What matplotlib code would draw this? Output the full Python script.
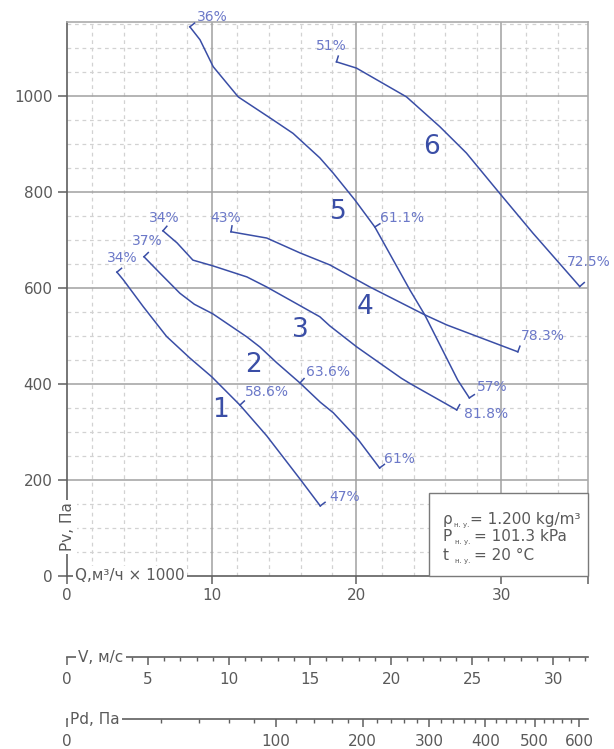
import numpy as np
import matplotlib
matplotlib.use("Agg")
import matplotlib.pyplot as plt
from matplotlib.patches import Rectangle

plt.rcParams['font.family'] = ['DejaVu Sans']

# ---------------- data ----------------
q1 = [3.45, 3.89, 5.27, 6.88, 8.49, 10.0, 11.95, 13.8, 16.1, 17.5]
p1 = [633, 617, 561, 499, 454, 415, 356, 292, 202, 146]
q2 = [5.32, 6.42, 7.8, 8.8, 10.08, 12.43, 13.33, 14.5, 16.1, 17.5, 18.4, 20.1, 21.6]
p2 = [665, 631, 589, 566, 546, 498, 477, 444, 402, 362, 340, 285, 225]
q3 = [6.63, 7.6, 8.7, 10.08, 12.43, 13.8, 15.4, 17.47, 18.16, 20.03, 23.1, 23.7, 26.93]
p3 = [719, 694, 658, 646, 623, 602, 575, 540, 521, 477, 412, 401, 346]
q4 = [11.33, 13.8, 16.1, 18.16, 20.93, 24.72, 26.24, 31.15]
p4 = [717, 704, 673, 648, 602, 544, 523, 467]
q5 = [8.49, 9.19, 10.1, 11.83, 14.24, 15.62, 17.47, 18.4, 19.9, 21.27, 23.69, 24.72, 27.0, 27.8]
p5 = [1144, 1117, 1061, 998, 950, 922, 871, 839, 783, 727, 596, 544, 408, 371]
q6 = [18.62, 20.0, 23.46, 25.76, 27.6, 29.9, 32.2, 35.43]
p6 = [1071, 1058, 998, 936, 881, 797, 714, 603]

start_eff = ['34%', '37%', '34%', '43%', '36%', '51%']
end_eff = ['47%', '61%', '81.8%', '78.3%', '57%', '72.5%']

mid_curve = [1, 2, 5]
mid_q = [11.95, 16.1, 21.27]
mid_p = [356, 402, 727]
mid_eff = ['58.6%', '63.6%', '61.1%']

num_labels = ['1', '2', '3', '4', '5', '6']
num_q = [10.64, 12.9, 16.16, 20.58, 18.78, 25.2]
num_p = [346, 440, 512, 560, 758, 894]

y_ticks = [0, 200, 400, 600, 800, 1000]
x_ticks = [0, 10, 20, 30]
v_ticks = [0, 5, 10, 15, 20, 25, 30]
pd_ticks = [0, 100, 200, 300, 400, 500, 600]

# ---------------- style ----------------
W, H = 614, 749
CURVE = '#3a4ea6'
PCT = '#6b78c8'
TXT = '#5a5a5a'
SPINE = '#5f5f5f'
GRID = '#a0a0a0'
MINOR = '#d2d2d2'

fig = plt.figure(figsize=(W / 100, H / 100), dpi=100)
L, R = 67, 588
TOP, BOT = 22, 576
ax = fig.add_axes([L / W, (H - BOT) / H, (R - L) / W, (BOT - TOP) / H])
ax.set_xlim(0, 36)
ax.set_ylim(0, 1154)

# grid
minor_off = [1.75, 3.95, 6.15, 8.3]
for base in [0, 10, 20, 30]:
    for o in minor_off:
        if base + o < 36:
            ax.axvline(base + o, color=MINOR, lw=0.9, ls=(0, (3, 3)), zorder=0.5)
for yv in np.arange(50, 1154, 50):
    if yv % 200 != 0:
        ax.axhline(yv, color=MINOR, lw=0.9, ls=(0, (3, 3)), zorder=0.5)
for xv in x_ticks[1:]:
    ax.axvline(xv, color=GRID, lw=1.1, zorder=0.8)
for yv in y_ticks[1:]:
    ax.axhline(yv, color=GRID, lw=1.1, zorder=0.8)

for s in ['left', 'bottom']:
    ax.spines[s].set_color(SPINE)
    ax.spines[s].set_linewidth(1.2)
for s in ['top', 'right']:
    ax.spines[s].set_color('#ababab')
    ax.spines[s].set_linewidth(1.2)

ax.set_yticks(y_ticks)
ax.set_yticklabels([str(v) for v in y_ticks])
ax.set_xticks(x_ticks + [36])
ax.set_xticklabels([str(v) for v in x_ticks] + [''])
ax.tick_params(axis='y', direction='out', length=6.5, width=1.1, color=SPINE,
               labelcolor=TXT, labelsize=11, pad=4)
ax.tick_params(axis='x', direction='out', length=6, width=1.1, color=SPINE,
               labelcolor=TXT, labelsize=11, pad=3)

ax.text(0, 102, 'Pv, Па', rotation=90, ha='center', va='center', fontsize=11,
        color=TXT, bbox=dict(facecolor='white', edgecolor='none', pad=1.5),
        zorder=5, clip_on=False)
ax.text(4.35, 0, 'Q,м³/ч × 1000', ha='center', va='center', fontsize=11,
        color=TXT, bbox=dict(facecolor='white', edgecolor='none', pad=1.5),
        zorder=5, clip_on=False)

# curves
curves_q = [q1, q2, q3, q4, q5, q6]
curves_p = [p1, p2, p3, p4, p5, p6]
for q, p in zip(curves_q, curves_p):
    ax.plot(q, p, color=CURVE, lw=1.1, zorder=3, solid_joinstyle='round')


def hook(qa, pa, qb, pb, qc, pc, length=6):
    """small tick at (qc,pc) perpendicular to direction a->b, toward upper right"""
    A = ax.transData.transform((qa, pa))
    B = ax.transData.transform((qb, pb))
    C = ax.transData.transform((qc, pc))
    t = B - A
    t = t / np.hypot(*t)
    n = np.array([-t[1], t[0]])
    if n[0] + n[1] < 0:
        n = -n
    E = ax.transData.inverted().transform(C + n * length)
    ax.plot([qc, E[0]], [pc, E[1]], color=CURVE, lw=1.1, zorder=3)


def pct(q, p, txt, dx, dy):
    ax.annotate(txt, (q, p), xytext=(dx, dy), textcoords='offset pixels',
                ha='center', va='center', fontsize=10, color=PCT, zorder=4)


start_off = [(5, 14), (3, 16), (1, 13), (-5, 14), (22, 10), (-5, 16)]
end_off = [(24, 9), (20, 9), (29, -4), (25, 16), (23, 11), (9, 25)]
for i, (q, p) in enumerate(zip(curves_q, curves_p)):
    hook(q[0], p[0], q[1], p[1], q[0], p[0])
    hook(q[-2], p[-2], q[-1], p[-1], q[-1], p[-1])
    pct(q[0], p[0], start_eff[i], *start_off[i])
    pct(q[-1], p[-1], end_eff[i], *end_off[i])

mid_off = [(27, 13), (28, 11), (27, 9)]
for c, mq, mp, lab, off in zip(mid_curve, mid_q, mid_p, mid_eff, mid_off):
    q = curves_q[c - 1]
    p = curves_p[c - 1]
    qa, qb = mq - 0.4, mq + 0.4
    hook(qa, np.interp(qa, q, p), qb, np.interp(qb, q, p), mq, mp)
    pct(mq, mp, lab, *off)

for lab, nq, npv in zip(num_labels, num_q, num_p):
    ax.text(nq, npv, lab, ha='center', va='center', fontsize=19, color=CURVE, zorder=4)

# info box
bx0 = (429 - L) / (R - L)
bh = (BOT - 493) / (BOT - TOP)
ax.add_patch(Rectangle((bx0, 0), 1 - bx0, bh, transform=ax.transAxes,
                       facecolor='white', edgecolor='#7a7a7a', lw=1.0, zorder=6,
                       clip_on=False))


def ftxt(x, y, s, size, **kw):
    fig.text(x / W, 1 - y / H, s, fontsize=size, color=TXT, va='baseline',
             ha='left', zorder=7, **kw)


ftxt(443, 524, 'ρ', 11)
ftxt(454, 527, 'н. у.', 5)
ftxt(470, 524, '= 1.200 kg/m³', 11)
ftxt(443, 541, 'P', 11)
ftxt(455, 544, 'н. у.', 5)
ftxt(474, 541, '= 101.3 kPa', 11)
ftxt(443, 560, 't', 11)
ftxt(455, 563, 'н. у.', 5)
ftxt(474, 560, '= 20 °C', 11)

# ---------------- secondary scales ----------------
VMAX = 32.16


def scale_axis(ypix, label, label_x):
    a = fig.add_axes([L / W, (H - ypix) / H, (R - L) / W, 0.0001])
    a.set_xlim(0, VMAX)
    a.patch.set_visible(False)
    for s in ['left', 'right', 'top']:
        a.spines[s].set_visible(False)
    a.spines['bottom'].set_color(SPINE)
    a.spines['bottom'].set_linewidth(1.2)
    a.set_yticks([])
    a.tick_params(axis='x', which='major', direction='out', length=6, width=1.1,
                  color=SPINE, labelcolor=TXT, labelsize=11, pad=5)
    a.tick_params(axis='x', which='minor', direction='out', length=3, width=1.0,
                  color=SPINE)
    a.text(label_x, 0, label, transform=a.get_xaxis_transform(), ha='left',
           va='center', fontsize=11, color=TXT,
           bbox=dict(facecolor='white', edgecolor='none', pad=1.5), zorder=5)
    return a


axV = scale_axis(657, 'V, м/с', 0.7)
axV.set_xticks(v_ticks)
axV.set_xticklabels([str(v) for v in v_ticks])
axV.set_xticks([v for v in range(1, 33) if v % 5 != 0], minor=True)

axP = scale_axis(719, 'Pd, Па', 0.2)
rho = 1.2
axP.set_xticks([np.sqrt(2 * v / rho) for v in pd_ticks])
axP.set_xticklabels([str(v) for v in pd_ticks])
axP.set_xticks([np.sqrt(2 * v / rho) for v in range(20, 620, 20) if v % 100 != 0],
               minor=True)

fig.savefig('out.png', dpi=100)
